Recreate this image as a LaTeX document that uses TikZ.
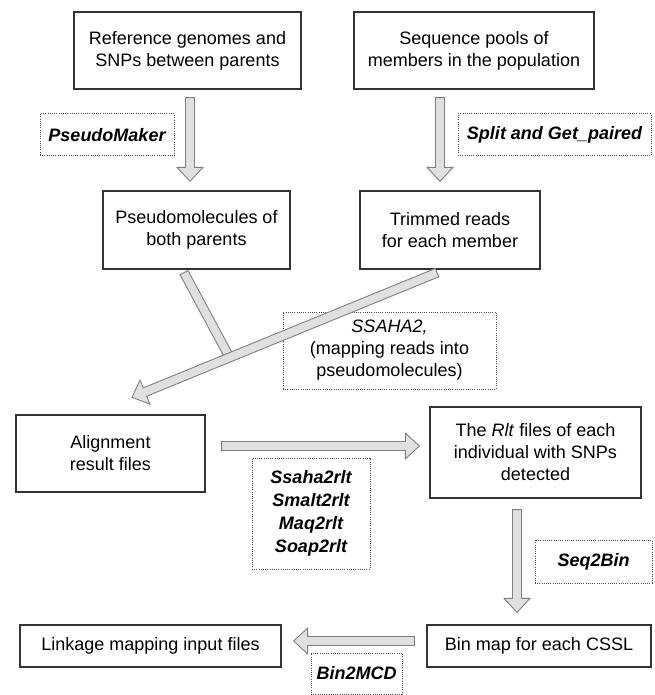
\documentclass[tikz,border=0pt]{standalone}
\usepackage{fontspec}
\setmainfont{Liberation Sans}
\usetikzlibrary{calc}

\definecolor{arrowfill}{gray}{0.88}
\definecolor{arrowline}{gray}{0.5}

% hollow grey block arrow from #1 to #2
\newcommand{\fatarrow}[2]{%
  \coordinate (fa-s) at #1;
  \coordinate (fa-e) at #2;
  \coordinate (fa-h) at ($(fa-e)!14pt!(fa-s)$);
  \filldraw[fat] ($(fa-s)!4.5pt!90:(fa-e)$) -- ($(fa-h)!4.5pt!90:(fa-e)$)
    -- ($(fa-h)!13pt!90:(fa-e)$) -- (fa-e) -- ($(fa-h)!13pt!-90:(fa-e)$)
    -- ($(fa-h)!4.5pt!-90:(fa-e)$) -- ($(fa-s)!4.5pt!-90:(fa-e)$) -- cycle;}

\begin{document}
\begin{tikzpicture}[
  x=1pt, y=-1pt,
  box/.style={rectangle, draw=black!80, line width=1.3pt, align=center, inner sep=0pt,
    font=\fontsize{18}{22}\selectfont},
  tool/.style={rectangle, draw=black!70, dash pattern=on 1pt off 1.2pt, line width=1pt, align=center, inner sep=0pt,
    font=\fontsize{18}{23}\selectfont\bfseries\itshape},
  fat/.style={fill=arrowfill, draw=arrowline, line width=0.9pt, line join=miter}
]
\useasboundingbox (0,0) rectangle (654,695);

% data boxes
\node[box, minimum width=227pt, minimum height=77pt] (ref) at (187.5,50.5) {Reference genomes and\\SNPs between parents};
\node[box, minimum width=240pt, minimum height=77pt] (pool) at (474,50.5) {Sequence pools of\\members in the population};
\node[box, minimum width=187pt, minimum height=78pt] (pseudo) at (196.5,230) {Pseudomolecules of\\both parents};
\node[box, minimum width=180pt, minimum height=78pt] (trim) at (450,230) {Trimmed reads\\for each member};
\node[box, minimum width=189pt, minimum height=77pt] (aln) at (110.5,453.5) {Alignment\\result files};
\node[box, minimum width=211pt, minimum height=91pt] (rlt) at (535.5,452.5) {The \textit{Rlt} files of each\\individual with SNPs\\detected};
\node[box, minimum width=224pt, minimum height=42pt] (bin) at (539,646) {Bin map for each CSSL};
\node[box, minimum width=261pt, minimum height=42pt] (link) at (150.5,646) {Linkage mapping input files};

% programs
\node[tool, minimum width=134pt, minimum height=42pt] (pm) at (107,135) {PseudoMaker};
\node[tool, minimum width=193pt, minimum height=42pt] (split) at (554.5,135) {Split and Get\_paired};
\node[tool, minimum width=213pt, minimum height=77pt, font=\fontsize{18}{22}\selectfont] (ssaha) at (389.5,350.5) {\textit{SSAHA2,}\\(mapping reads into\\pseudomolecules)};
\node[tool, minimum width=118pt, minimum height=111pt] (conv) at (311,513.5) {Ssaha2rlt\\Smalt2rlt\\Maq2rlt\\Soap2rlt};
\node[tool, minimum width=117pt, minimum height=43pt] (s2b) at (593.5,561.5) {Seq2Bin};
\node[tool, minimum width=91pt, minimum height=41pt] (b2m) at (356.5,673.5) {Bin2MCD};

% arrows
\fatarrow{($(ref.south)+(2.5,8)$)}{($(pseudo.north)+(-6.5,-9)$)}
\fatarrow{($(pool.south)+(-34,8)$)}{($(trim.north)+(-10,-9)$)}

\coordinate (ls) at ($(trim.south)+(-13,3)$);
\coordinate (le) at ($(aln.north)+(21.5,-17)$);
\coordinate (bs) at ($(pseudo.south)+(-12.5,3)$);
\coordinate (be) at ($(ls)!0.68!(le)$);
\filldraw[fat] ($(bs)!4.5pt!90:(be)$) -- ($(be)!4.5pt!-90:(bs)$) -- ($(be)!4.5pt!90:(bs)$) -- ($(bs)!4.5pt!-90:(be)$) -- cycle;
\fatarrow{(ls)}{(le)}

\fatarrow{($(aln.east)+(16,-7.5)$)}{($(rlt.west)+(-10,-6.5)$)}
\fatarrow{($(rlt.south)+(-18.5,11)$)}{($(bin.north)+(-22,-12)$)}
\fatarrow{($(bin.west)+(-12,-5)$)}{($(link.east)+(12,-5)$)}
\end{tikzpicture}
\end{document}
